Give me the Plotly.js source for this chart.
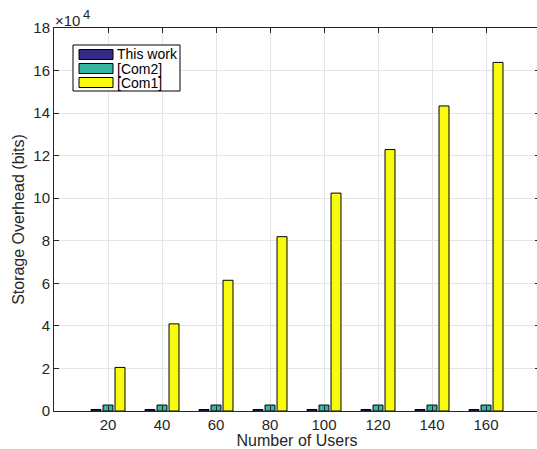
<!DOCTYPE html>
<html>
<head>
<meta charset="utf-8">
<script src="https://cdn.plot.ly/plotly-3.0.1.min.js"></script>
<style>
html,body{margin:0;padding:0;overflow:hidden;background:#fff;}
#chart{width:540px;height:449px;}
</style>
</head>
<body>
<div id="chart"></div>
<script>
const users = [20, 40, 60, 80, 100, 120, 140, 160];
const seriesNames = ["This work", "[Com2]", "[Com1]"];
const thisWork = [700, 700, 700, 700, 700, 700, 700, 700];
const com2 = [2800, 2800, 2800, 2800, 2800, 2800, 2800, 2800];
const com1 = [20480, 40960, 61440, 81920, 102400, 122880, 143360, 163840];
const yTickVals = [0, 20000, 40000, 60000, 80000, 100000, 120000, 140000, 160000, 180000];
const yTickText = ["0", "2", "4", "6", "8", "10", "12", "14", "16", "18"];
const colors = ["#352a87", "#33b8a1", "#f9fb0e"];

const seriesValues = [thisWork, com2, com1];
const traces = seriesValues.map((vals, i) => ({
  type: "bar",
  x: users,
  y: vals,
  name: seriesNames[i],
  marker: {color: colors[i], line: {color: "#000", width: 1}},
  showlegend: false,
  hoverinfo: "x+y"
}));

const W = 540, H = 449;
const m = {l: 54, r: 0, t: 28, b: 38};
const pw = W - m.l - m.r, ph = H - m.t - m.b;
function px(x){ return (x - m.l) / pw; }
function py(y){ return 1 - (y - m.t) / ph; }
const FAM = "Liberation Sans, Arial, Helvetica, sans-serif";

const shapes = [];
const annotations = [];
// legend box
shapes.push({type: "rect", xref: "paper", yref: "paper",
  x0: px(73), x1: px(180), y0: py(91), y1: py(45),
  fillcolor: "#fff", line: {color: "#000", width: 1}, layer: "above"});
const rowY = [54.5, 68.5, 82.5];
seriesNames.forEach((name, i) => {
  shapes.push({type: "rect", xref: "paper", yref: "paper",
    x0: px(79), x1: px(113), y0: py(rowY[i] + 5), y1: py(rowY[i] - 5),
    fillcolor: colors[i], line: {color: "#000", width: 1}, layer: "above"});
  annotations.push({xref: "paper", yref: "paper", x: px(115), y: py(rowY[i]),
    xanchor: "left", yanchor: "middle", showarrow: false, text: name,
    font: {family: FAM, size: 14, color: "#000"}});
});
annotations.push({xref: "paper", yref: "paper", x: px(53), y: py(20.5),
  xanchor: "left", yanchor: "middle", showarrow: false,
  text: "×10",
  font: {family: FAM, size: 15, color: "#262626"}});
annotations.push({xref: "paper", yref: "paper", x: px(81), y: py(15),
  xanchor: "left", yanchor: "middle", showarrow: false,
  text: "4",
  font: {family: FAM, size: 13, color: "#262626"}});

const axisFont = {family: FAM, size: 15, color: "#262626"};
const titleFont = {family: FAM, size: 16, color: "#262626"};
const layout = {
  width: W, height: H,
  margin: m,
  paper_bgcolor: "#fff", plot_bgcolor: "#fff",
  barmode: "group", bargap: 0.333, bargroupgap: 0.17,
  font: axisFont,
  xaxis: {
    range: [0, 180], tickvals: users, ticktext: users.map(String),
    ticks: "inside", ticklen: 5, tickcolor: "#262626",
    showline: true, linecolor: "#262626", linewidth: 1, mirror: "ticks",
    showgrid: true, gridcolor: "#e5e5e5", zeroline: false,
    tickfont: axisFont,
    title: {text: "Number of Users", font: titleFont, standoff: 0}
  },
  yaxis: {
    range: [0, 180000], tickvals: yTickVals, ticktext: yTickText,
    ticks: "inside", ticklen: 5, tickcolor: "#262626",
    showline: true, linecolor: "#262626", linewidth: 1, mirror: "ticks",
    showgrid: true, gridcolor: "#e5e5e5", zeroline: false,
    tickfont: axisFont,
    title: {text: "Storage Overhead (bits)", font: titleFont, standoff: 4}
  },
  shapes: shapes,
  annotations: annotations
};

Plotly.newPlot("chart", traces, layout, {displayModeBar: false, staticPlot: true});
</script>
</body>
</html>
